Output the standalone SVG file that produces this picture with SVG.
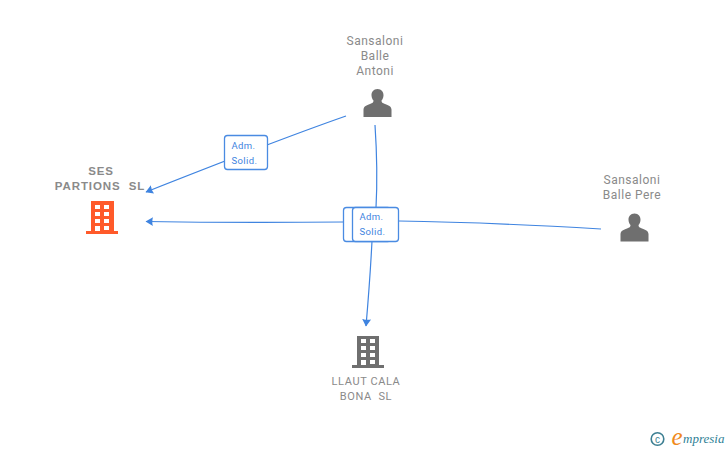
<svg xmlns="http://www.w3.org/2000/svg" width="728" height="450" viewBox="0 0 728 450">
<style>
.n{font-family:Roboto,"Liberation Sans",sans-serif;font-size:12px;fill:#8a8a8a;text-anchor:middle;letter-spacing:.5px;white-space:pre}
.c{font-family:"Liberation Sans",Arial,sans-serif;font-size:11.500px;font-weight:bold;fill:#8a8a8a;text-anchor:middle;letter-spacing:.9px;white-space:pre}
.s{font-size:11px;letter-spacing:.6px}
.l{font-family:Roboto,"Liberation Sans",sans-serif;font-size:9.500px;fill:#3f84e0;letter-spacing:.4px}
.e{fill:none;stroke:#3f84e0;stroke-width:1.200}
.b{fill:#fff;stroke:#4a8be2;stroke-width:1.300}
.w{fill:#fff}
</style>
<defs>
<marker id="a" markerWidth="10" markerHeight="12" refX="7" refY="5" orient="auto" markerUnits="userSpaceOnUse"><path d="M0 0.500Q1.500 5 0 9.500L7.500 5Z" fill="#3f84e0"/></marker>
<path id="p" d="M0 -14.500C-4 -14.500 -6.200 -11.500 -6 -8C-5.800 -5.500 -5 -4 -4 -3C-4 -1 -5 -0.500 -7.500 0.500C-11 1.800 -13.500 2.500 -14 6L-14 13.500L14 13.500L14 6C13.500 2.500 11 1.800 7.500 0.500C5 -0.500 4 -1 4 -3C5 -4 5.800 -5.500 6 -8C6.200 -11.500 4 -14.500 0 -14.500Z"/>
</defs>
<g id="connectors">
<path class="e" d="M346 116Q280 139 146 192" marker-end="url(#a)"/>
<path class="e" d="M375 125Q378 170 376 208"/>
<path class="e" d="M343 222Q240 223 146 221.500" marker-end="url(#a)"/>
<path class="e" d="M399 221Q480 222 601 229"/>
<path class="e" d="M372 241Q370 280 366 326" marker-end="url(#a)"/>
</g>
<g id="edge-label-1">
<rect class="b" x="224.500" y="135.500" width="43" height="34" rx="3"/>
<text class="l" x="231.500" y="149">Adm.</text><text class="l" x="231.500" y="164">Solid.</text>
</g>
<g id="edge-label-2">
<rect class="b" x="343.500" y="207.500" width="47" height="34" rx="3"/>
<rect class="b" x="352.500" y="207.500" width="46" height="34" rx="3"/>
<text class="l" x="359.500" y="220">Adm.</text><text class="l" x="359.500" y="235">Solid.</text>
</g>
<g id="node-ses">
<text class="c" x="101" y="175">SES</text>
<text class="c" x="100" y="190">PARTIONS  SL</text>
<path fill="#ff5a2a" d="M91 201H114V231H118V234H86V231H91Z"/>
<g class="w"><rect x="95" y="205" width="5" height="4"/><rect x="104" y="205" width="5" height="4"/><rect x="95" y="212" width="5" height="4"/><rect x="104" y="212" width="5" height="4"/><rect x="95" y="219" width="5" height="4"/><rect x="104" y="219" width="5" height="4"/><rect x="95" y="226" width="5" height="5"/><rect x="104" y="226" width="5" height="4"/></g>
</g>
<g id="node-antoni">
<text class="n" x="375" y="45">Sansaloni</text><text class="n" x="375" y="60">Balle</text><text class="n" x="375" y="75">Antoni</text>
<use href="#p" x="377.500" y="103.500" fill="#6f6f6f"/>
</g>
<g id="node-pere">
<text class="n" x="632" y="184">Sansaloni</text><text class="n" x="632" y="199">Balle Pere</text>
<use href="#p" x="634.500" y="228" fill="#6f6f6f"/>
</g>
<g id="node-llaut">
<path fill="#6f6f6f" d="M357 336H379V365H384V368H352V365H357Z"/>
<g class="w"><rect x="361" y="339" width="5" height="4"/><rect x="370" y="339" width="5" height="4"/><rect x="361" y="346" width="5" height="4"/><rect x="370" y="346" width="5" height="4"/><rect x="361" y="353" width="5" height="4"/><rect x="370" y="353" width="5" height="4"/><rect x="361" y="360" width="5" height="5"/><rect x="370" y="360" width="5" height="4"/></g>
<text class="n s" x="366" y="385">LLAUT CALA</text><text class="n s" x="366" y="400">BONA  SL</text>
</g>
<g id="logo">
<circle cx="657.500" cy="439" r="6.300" fill="none" stroke="#3d7f92" stroke-width="1.600"/>
<text x="657.500" y="442.500" font-family="'Liberation Sans',sans-serif" font-size="10" fill="#3d7f92" text-anchor="middle">c</text>
<text x="677" y="445" font-family="'Liberation Serif',serif" font-style="italic" font-size="25" fill="#f08a1c" text-anchor="middle">e</text>
<text x="683" y="443" font-family="'Liberation Serif',serif" font-style="italic" font-size="13" fill="#2f7f96">mpresia</text>
</g>
</svg>
